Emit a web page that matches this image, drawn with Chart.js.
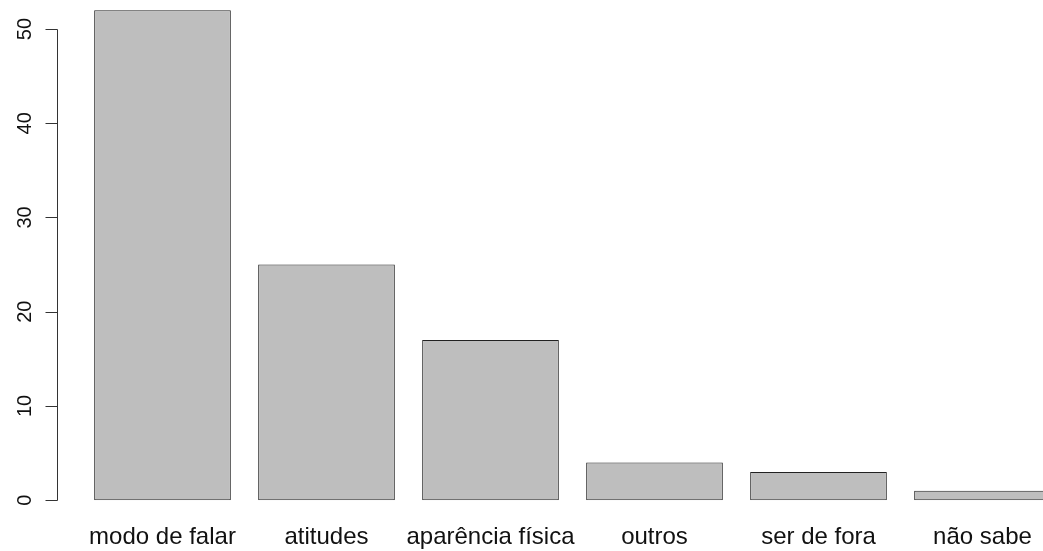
<!DOCTYPE html>
<html>
<head>
<meta charset="utf-8">
<script src="https://cdn.jsdelivr.net/npm/chart.js@4"></script>
<style>
  html, body { margin: 0; padding: 0; background: #fff; overflow: hidden; }
  #wrap { width: 1066px; height: 552px; position: relative; }
</style>
</head>
<body>
<div id="wrap"><canvas id="barChart"></canvas></div>
<script>
  const categories = ['modo de falar', 'atitudes', 'aparência física', 'outros', 'ser de fora', 'não sabe'];
  const counts = [52, 25, 17, 4, 3, 1];
  const yTicks = [0, 10, 20, 30, 40, 50];

  const FONT = '"Liberation Sans", Arial, Helvetica, sans-serif';

  // R-style y axis: line only spans the tick range, labels turned vertical
  const rAxis = {
    id: 'rAxis',
    afterDraw(chart) {
      const ctx = chart.ctx;
      const y = chart.scales.y;
      const axisX = 57.5;
      ctx.save();
      ctx.strokeStyle = '#333';
      ctx.lineWidth = 1;
      ctx.beginPath();
      ctx.moveTo(axisX, Math.round(y.getPixelForValue(yTicks[0])) + 0.5);
      ctx.lineTo(axisX, Math.round(y.getPixelForValue(yTicks[yTicks.length - 1])) + 0.5);
      yTicks.forEach(v => {
        const py = Math.round(y.getPixelForValue(v)) + 0.5;
        ctx.moveTo(axisX, py);
        ctx.lineTo(axisX - 12, py);
      });
      ctx.stroke();
      ctx.fillStyle = '#111';
      ctx.font = '20px ' + FONT;
      ctx.textAlign = 'center';
      ctx.textBaseline = 'alphabetic';
      yTicks.forEach(v => {
        ctx.save();
        ctx.translate(31, y.getPixelForValue(v));
        ctx.rotate(-Math.PI / 2);
        ctx.fillText(String(v), 0, 0);
        ctx.restore();
      });
      ctx.restore();
    }
  };

  const ctx = document.getElementById('barChart').getContext('2d');
  new Chart(ctx, {
    type: 'bar',
    data: {
      labels: categories,
      datasets: [{
        data: counts,
        backgroundColor: '#bebebe',
        borderColor: '#222',
        borderWidth: 1,
        borderSkipped: false,
        barPercentage: 1 / 1.2,
        categoryPercentage: 1
      }]
    },
    options: {
      responsive: true,
      maintainAspectRatio: false,
      animation: false,
      layout: { padding: { left: 80.5, right: 1.5, top: 0, bottom: 0 } },
      plugins: {
        legend: { display: false },
        tooltip: { enabled: false }
      },
      scales: {
        x: {
          offset: true,
          border: { display: false },
          grid: { display: false, drawTicks: true, tickLength: 23 },
          ticks: {
            autoSkip: false,
            maxRotation: 0,
            minRotation: 0,
            padding: 0,
            color: '#111',
            font: { family: FONT, size: 24 }
          }
        },
        y: {
          display: false,
          min: 0,
          max: 53.08
        }
      }
    },
    plugins: [rAxis]
  });
</script>
</body>
</html>
